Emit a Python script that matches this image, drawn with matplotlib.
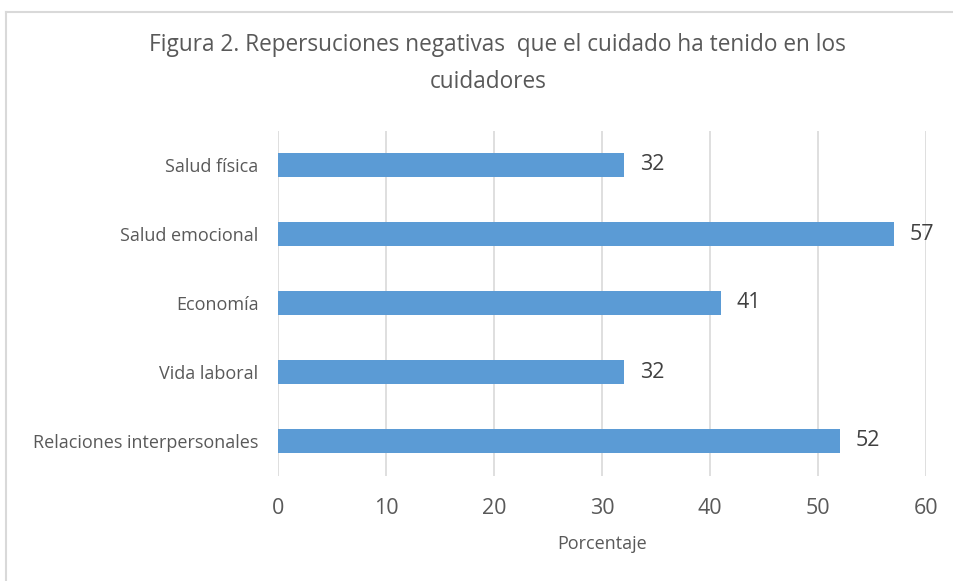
import matplotlib.pyplot as plt
from matplotlib.lines import Line2D

# Datos del grafico
categorias = ["Salud física", "Salud emocional", "Economía", "Vida laboral",
              "Relaciones interpersonales"]
valores = [32, 57, 41, 32, 52]
ticks_x = [0, 10, 20, 30, 40, 50, 60]

plt.rcParams['font.family'] = ['Open Sans', 'DejaVu Sans']

fig = plt.figure(figsize=(9.54, 5.81), dpi=100)
ax = fig.add_axes([278 / 954, 1 - 475.5 / 581, 648 / 954, 345 / 581])

pos = list(range(len(categorias)))
ax.barh(pos, valores, height=0.35, color="#5B9BD5", zorder=3)
ax.set_ylim(len(categorias) - 0.5, -0.5)
ax.set_xlim(0, 60)
ax.set_xticks(ticks_x)
ax.set_yticks(pos)
ax.set_yticklabels(categorias, fontsize=13, color="#595959")
ax.tick_params(axis="x", labelsize=15.5, labelcolor="#595959", length=0, pad=16)
ax.tick_params(axis="y", length=0, pad=14)
ax.grid(axis="x", color="#D9D9D9", linewidth=1.2, zorder=0)
for s in ax.spines.values():
    s.set_visible(False)

for p, v in zip(pos, valores):
    ax.text(v + 1.5, p, str(v), va="center", ha="left", fontsize=15.5, color="#404040")

ax.set_xlabel("Porcentaje", fontsize=13, color="#595959", labelpad=12)

fig.text(497 / 954, 1 - 45 / 581, "Figura 2. Repersuciones negativas  que el cuidado ha tenido en los",
         ha="center", va="center", fontsize=16.3, color="#595959")
fig.text(488 / 954, 1 - 82 / 581, "cuidadores", ha="center", va="center", fontsize=16.3, color="#595959")

# marco del area del grafico
fig.add_artist(Line2D([6.5 / 954, 6.5 / 954], [0, 1 - 11.5 / 581], transform=fig.transFigure,
                      color="#D9D9D9", linewidth=1.5))
fig.add_artist(Line2D([6.5 / 954, 1], [1 - 11.5 / 581, 1 - 11.5 / 581], transform=fig.transFigure,
                      color="#D9D9D9", linewidth=1.5))

fig.savefig("out.png", dpi=100)
